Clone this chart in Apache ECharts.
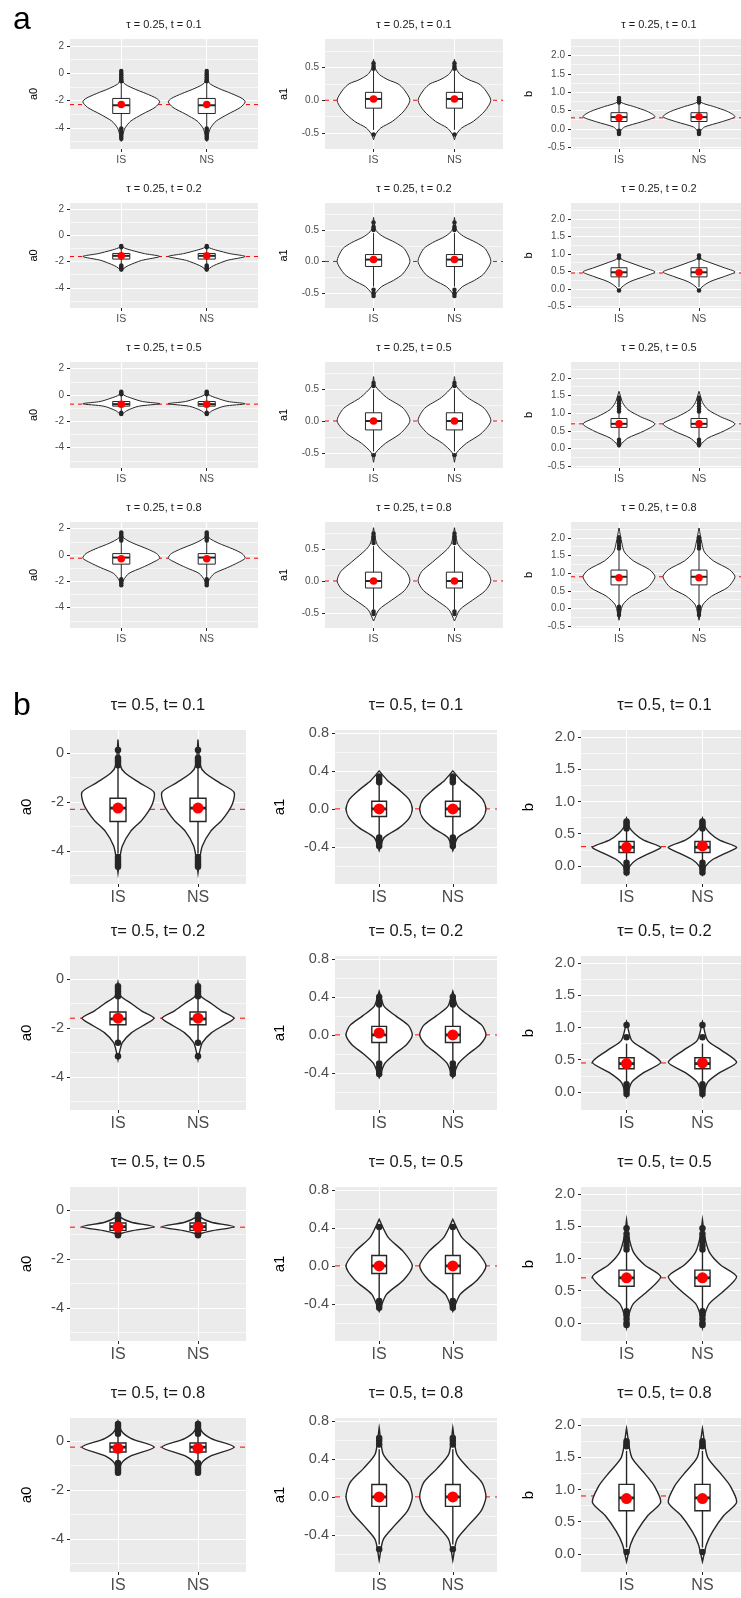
<!DOCTYPE html>
<html>
<head>
<meta charset="utf-8">
<title>Violin plots of IS and NS estimates</title>
<script src="https://cdn.jsdelivr.net/npm/echarts@6/dist/echarts.min.js"></script>
</head>
<body style="margin:0;background:#fff">
<div id="main" style="width:741px;height:1598px;"></div>
<script type="text/javascript">
var groups = ['IS', 'NS'];
var taus = ['0.25', '0.5'];
var tVals = ['0.1', '0.2', '0.5', '0.8'];
var params = ['a0', 'a1', 'b'];

// true parameter values (red dashed line), one per t
var trueA0 = [-2.3, -1.6, -0.7, -0.25];
var trueA1 = [0, 0, 0, 0];
var trueB = [0.3, 0.45, 0.7, 0.9];

// violin outlines: [y, relative half width], top to bottom, one per t
// box: [lower whisker, q1, median, q3, upper whisker]; mean: [IS, NS]
// ---- tau = 0.25 ----
var violinA0_025 = [
  [[0.3, 0], [-0.7, 0.06], [-1.1, 0.3], [-1.5, 0.65], [-1.85, 0.92], [-2.1, 1], [-2.5, 0.88], [-3.0, 0.55], [-3.5, 0.25], [-4.0, 0.1], [-4.5, 0.04], [-5.0, 0]],
  [[-0.75, 0], [-0.95, 0.08], [-1.13, 0.27], [-1.38, 0.6], [-1.6, 1], [-1.9, 0.53], [-2.3, 0.18], [-2.5, 0.07], [-2.75, 0]],
  [[0.35, 0], [0.0, 0.06], [-0.25, 0.27], [-0.5, 0.55], [-0.67, 1], [-0.86, 0.45], [-1.2, 0.14], [-1.45, 0.04], [-1.6, 0]],
  [[1.8, 0], [1.3, 0.06], [0.9, 0.3], [0.45, 0.68], [0.1, 0.92], [-0.25, 1], [-0.6, 0.8], [-0.95, 0.55], [-1.4, 0.2], [-1.9, 0.06], [-2.4, 0]]
];
var boxA0_025 = [[-3.95, -2.95, -2.35, -1.85, -0.7], [-2.2, -1.8, -1.55, -1.37, -1.0], [-1.3, -0.85, -0.7, -0.5, -0.05], [-1.75, -0.7, -0.2, 0.1, 1.0]];
var meanA0_025 = [[-2.3, -2.3], [-1.55, -1.55], [-0.7, -0.7], [-0.3, -0.3]];
var outA0_025 = [
  [-0.6, -0.45, -0.3, -0.15, 0, 0.15, -4.05, -4.2, -4.35, -4.5, -4.65, -4.8],
  [-0.8, -0.9, -2.3, -2.4, -2.5, -2.6],
  [0.05, 0.15, 0.25, -1.35, -1.45],
  [1.1, 1.25, 1.4, 1.55, 1.7, -1.85, -2.0, -2.15, -2.3]
];

var violinA1_025 = [
  [[0.62, 0], [0.48, 0.05], [0.39, 0.16], [0.31, 0.4], [0.25, 0.67], [0.16, 0.84], [0.0, 1], [-0.16, 0.84], [-0.32, 0.52], [-0.42, 0.2], [-0.52, 0.05], [-0.6, 0]],
  [[0.7, 0], [0.5, 0.06], [0.4, 0.25], [0.3, 0.6], [0.2, 0.85], [0.0, 1], [-0.2, 0.8], [-0.3, 0.55], [-0.4, 0.22], [-0.5, 0.06], [-0.57, 0]],
  [[0.7, 0], [0.55, 0.05], [0.37, 0.36], [0.2, 0.82], [0.0, 1], [-0.2, 0.73], [-0.35, 0.33], [-0.5, 0.06], [-0.65, 0]],
  [[0.84, 0], [0.6, 0.08], [0.5, 0.2], [0.3, 0.6], [0.15, 0.9], [0.0, 1], [-0.15, 0.85], [-0.3, 0.5], [-0.45, 0.15], [-0.63, 0]]
];
var boxA1_025 = [[-0.45, -0.12, 0.02, 0.12, 0.45], [-0.4, -0.08, 0.03, 0.11, 0.45], [-0.48, -0.14, 0.0, 0.13, 0.5], [-0.45, -0.11, 0.0, 0.14, 0.55]];
var meanA1_025 = [[0.02, 0.02], [0.03, 0.03], [0, 0], [0, 0]];
var outA1_025 = [
  [0.48, 0.52, 0.56, -0.52],
  [0.5, 0.55, 0.62, -0.45, -0.5, -0.55],
  [0.55, 0.6, -0.54],
  [0.6, 0.65, 0.7, 0.75, -0.48, -0.52]
];

var violinB_025 = [
  [[0.88, 0], [0.72, 0.06], [0.61, 0.4], [0.47, 0.8], [0.33, 1], [0.19, 0.62], [0.05, 0.15], [-0.05, 0.05], [-0.16, 0]],
  [[1.0, 0], [0.85, 0.06], [0.75, 0.3], [0.6, 0.7], [0.48, 1], [0.35, 0.7], [0.2, 0.3], [0.05, 0.08], [-0.08, 0]],
  [[1.62, 0], [1.3, 0.1], [1.1, 0.25], [0.9, 0.6], [0.7, 1], [0.5, 0.7], [0.3, 0.25], [0.15, 0.08], [0.03, 0]],
  [[2.28, 0], [1.85, 0.08], [1.6, 0.15], [1.35, 0.4], [1.1, 0.85], [0.9, 1], [0.6, 0.8], [0.35, 0.35], [0.1, 0.1], [-0.33, 0]]
];
var boxB_025 = [[0.0, 0.2, 0.32, 0.44, 0.7], [0.05, 0.34, 0.47, 0.6, 0.85], [0.3, 0.6, 0.7, 0.85, 1.0], [0.1, 0.67, 0.9, 1.09, 1.65]];
var meanB_025 = [[0.3, 0.33], [0.45, 0.48], [0.7, 0.7], [0.87, 0.87]];
var outB_025 = [
  [0.72, 0.78, 0.84, -0.05, -0.1, -0.14],
  [0.88, 0.95, -0.05],
  [1.05, 1.12, 1.2, 1.28, 1.36, 1.44, 0.25, 0.18, 0.1],
  [1.7, 1.78, 1.86, 1.94, 2.02, 0.05, -0.03, -0.1, -0.18]
];

// ---- tau = 0.5 ----
var violinA0_05 = [
  [[0.55, 0], [-0.5, 0.06], [-0.82, 0.2], [-1.22, 0.6], [-1.6, 1], [-2.1, 0.95], [-2.73, 0.67], [-3.2, 0.35], [-3.8, 0.12], [-4.3, 0.05], [-4.9, 0]],
  [[-0.13, 0], [-0.7, 0.08], [-1.0, 0.37], [-1.3, 0.65], [-1.6, 1], [-1.9, 0.7], [-2.2, 0.37], [-2.6, 0.12], [-3.0, 0.04], [-3.3, 0]],
  [[-0.1, 0], [-0.3, 0.07], [-0.5, 0.37], [-0.68, 1], [-0.85, 0.37], [-0.95, 0.1], [-1.07, 0]],
  [[0.82, 0], [0.4, 0.1], [0.1, 0.37], [-0.25, 1], [-0.6, 0.37], [-0.9, 0.1], [-1.35, 0]]
];
var boxA0_05 = [[-4.1, -2.8, -2.25, -1.85, -0.6], [-2.5, -1.87, -1.63, -1.35, -0.8], [-0.9, -0.83, -0.68, -0.53, -0.3], [-0.85, -0.45, -0.25, -0.08, 0.3]];
var meanA0_05 = [[-2.25, -2.25], [-1.6, -1.6], [-0.7, -0.7], [-0.3, -0.3]];
var outA0_05 = [
  [0.12, -0.2, -0.3, -0.4, -0.5, -4.25, -4.35, -4.45, -4.55, -4.65],
  [-0.3, -0.4, -0.5, -0.6, -0.7, -2.6, -3.15],
  [-0.2, -0.27, -0.35, -0.45, -0.93, -0.98, -1.03],
  [0.3, 0.4, 0.5, 0.6, 0.7, -0.9, -1.0, -1.1, -1.2, -1.3]
];

var violinA1_05 = [
  [[0.4, 0], [0.3, 0.25], [0.2, 0.6], [0.1, 0.9], [0, 1], [-0.1, 0.9], [-0.2, 0.6], [-0.3, 0.15], [-0.44, 0]],
  [[0.46, 0], [0.3, 0.15], [0.2, 0.5], [0.1, 0.88], [0, 1], [-0.1, 0.83], [-0.2, 0.47], [-0.3, 0.17], [-0.45, 0]],
  [[0.49, 0], [0.3, 0.27], [0.15, 0.73], [0, 1], [-0.15, 0.73], [-0.3, 0.22], [-0.48, 0]],
  [[0.73, 0], [0.45, 0.12], [0.3, 0.47], [0.15, 0.88], [0, 1], [-0.15, 0.85], [-0.3, 0.47], [-0.45, 0.12], [-0.67, 0]]
];
var boxA1_05 = [[-0.28, -0.08, 0.0, 0.08, 0.28], [-0.27, -0.08, 0.0, 0.09, 0.3], [-0.35, -0.08, 0.0, 0.11, 0.38], [-0.5, -0.1, 0.0, 0.13, 0.5]];
var meanA1_05 = [[0, 0], [0.02, 0], [0, 0], [0, 0]];
var outA1_05 = [
  [0.28, 0.31, 0.34, -0.3, -0.33, -0.36, -0.39],
  [0.32, 0.36, 0.4, -0.3, -0.34, -0.38, -0.41],
  [0.41, -0.37, -0.41, -0.44],
  [0.55, 0.59, 0.62, -0.55]
];

var violinB_05 = [
  [[0.74, 0], [0.6, 0.08], [0.5, 0.24], [0.4, 0.5], [0.29, 1], [0.2, 0.68], [0.1, 0.3], [0.0, 0.1], [-0.14, 0]],
  [[1.09, 0], [0.8, 0.15], [0.65, 0.55], [0.46, 1], [0.3, 0.5], [0.15, 0.15], [-0.08, 0]],
  [[1.6, 0], [1.35, 0.06], [1.1, 0.2], [0.9, 0.53], [0.72, 1], [0.5, 0.63], [0.3, 0.2], [0.1, 0.05], [-0.07, 0]],
  [[1.95, 0], [1.5, 0.15], [1.25, 0.53], [1.05, 0.82], [0.8, 1], [0.6, 0.63], [0.35, 0.3], [0.15, 0.12], [-0.12, 0]]
];
var boxB_05 = [[0.0, 0.21, 0.29, 0.38, 0.55], [0.15, 0.36, 0.44, 0.53, 0.75], [0.2, 0.57, 0.7, 0.82, 1.1], [0.1, 0.67, 0.87, 1.08, 1.6]];
var meanB_05 = [[0.29, 0.31], [0.44, 0.45], [0.7, 0.7], [0.86, 0.86]];
var outB_05 = [
  [0.58, 0.62, 0.66, 0.69, 0.05, 0.0, -0.05, -0.1],
  [0.85, 1.04, 0.12, 0.07, 0.02, -0.03],
  [1.14, 1.2, 1.26, 1.32, 1.38, 1.47, 0.18, 0.12, 0.06, 0.0, -0.03],
  [1.67, 1.71, 1.75, 0.03]
];

// axis ranges and tick values for each parameter column
var yRange_025 = [[-5.55, 2.5], [-0.74, 0.93], [-0.55, 2.45]];
var yRange_05 = [[-5.35, 0.94], [-0.79, 0.83], [-0.28, 2.11]];
var yMajor_025 = [[-4, -2, 0, 2], [-0.5, 0, 0.5], [-0.5, 0, 0.5, 1, 1.5, 2]];
var yMinor_025 = [[-5, -3, -1, 1], [-0.25, 0.25, 0.75], [-0.25, 0.25, 0.75, 1.25, 1.75, 2.25]];
var yMajor_05 = [[-4, -2, 0], [-0.4, 0, 0.4, 0.8], [0, 0.5, 1, 1.5, 2]];
var yMinor_05 = [[-5, -3, -1], [-0.6, -0.2, 0.2, 0.6], [0.25, 0.75, 1.25, 1.75]];
var decimals = [0, 1, 1];

var truth = [trueA0, trueA1, trueB];
var sections = [
  {
    tau: taus[0],
    violin: [violinA0_025, violinA1_025, violinB_025],
    box: [boxA0_025, boxA1_025, boxB_025],
    mean: [meanA0_025, meanA1_025, meanB_025],
    out: [outA0_025, outA1_025, outB_025],
    range: yRange_025, major: yMajor_025, minor: yMinor_025
  },
  {
    tau: taus[1],
    violin: [violinA0_05, violinA1_05, violinB_05],
    box: [boxA0_05, boxA1_05, boxB_05],
    mean: [meanA0_05, meanA1_05, meanB_05],
    out: [outA0_05, outA1_05, outB_05],
    range: yRange_05, major: yMajor_05, minor: yMinor_05
  }
];

// page layout (pixels)
var layouts = [
  {
    tops: [39, 203, 362, 522], heights: [110, 105, 106, 106],
    lefts: [70, 325, 571], widths: [188, 178, 176],
    nameGaps: [31, 36, 37], titleOffset: 20, letterTop: 4,
    titleFmt: function (tau, t) { return 'τ = ' + tau + ', t = ' + t; },
    fTitle: 11, fTick: 10, fX: 10.5, fName: 11,
    lw: 1, outSize: 4.5, meanSize: 7.5, dash: [4, 4]
  },
  {
    tops: [730, 956, 1187, 1418], heights: [154, 154, 154, 154],
    lefts: [70, 335, 581], widths: [176, 162, 167],
    nameGaps: [36, 48, 45], titleOffset: 33, letterTop: 690,
    titleFmt: function (tau, t) { return 'τ= ' + tau + ', t= ' + t; },
    fTitle: 16.5, fTick: 14.5, fX: 16, fName: 15,
    lw: 1.4, outSize: 6.5, meanSize: 11, dash: [5, 5]
  }
];

var xMin = 0.4, xMax = 2.6, xPos = [1, 2];
var VHALF = 0.45, BHALF = 0.1;
var ink = '#262626';

function makeRender(prof, box, lw) {
  return function (params, api) {
    var x = api.value(0);
    var pts = [];
    for (var i = 0; i < prof.length; i++) pts.push(api.coord([x + prof[i][1] * VHALF, prof[i][0]]));
    for (var j = prof.length - 1; j >= 0; j--) pts.push(api.coord([x - prof[j][1] * VHALF, prof[j][0]]));
    var lo = api.coord([x, box[0]]);
    var hi = api.coord([x, box[4]]);
    var bl = api.coord([x - BHALF, box[1]]);
    var tr = api.coord([x + BHALF, box[3]]);
    var mL = api.coord([x - BHALF, box[2]]);
    var mR = api.coord([x + BHALF, box[2]]);
    return {
      type: 'group',
      children: [
        { type: 'polygon', shape: { points: pts, smooth: 0.25 }, style: { fill: '#fff', stroke: ink, lineWidth: lw } },
        { type: 'line', shape: { x1: lo[0], y1: lo[1], x2: hi[0], y2: hi[1] }, style: { stroke: ink, lineWidth: lw } },
        { type: 'rect', shape: { x: bl[0], y: tr[1], width: tr[0] - bl[0], height: bl[1] - tr[1] }, style: { fill: '#fff', stroke: ink, lineWidth: lw } },
        { type: 'line', shape: { x1: mL[0], y1: mL[1], x2: mR[0], y2: mR[1] }, style: { stroke: ink, lineWidth: lw * 2 } }
      ]
    };
  };
}

var option = {
  animation: false,
  backgroundColor: '#fff',
  textStyle: { fontFamily: 'Liberation Sans, Arial, sans-serif' },
  title: [], grid: [], xAxis: [], yAxis: [], series: []
};

['a', 'b'].forEach(function (letter, s) {
  option.title.push({
    text: letter, left: 13, top: layouts[s].letterTop, padding: 0,
    textStyle: { fontSize: 32, fontWeight: 'normal', color: '#000' }
  });
});

sections.forEach(function (sec, s) {
  var L = layouts[s];
  for (var r = 0; r < tVals.length; r++) {
    for (var c = 0; c < params.length; c++) {
      var gi = option.grid.length;
      var left = L.lefts[c], top = L.tops[r], w = L.widths[c], h = L.heights[r];
      option.grid.push({
        left: left, top: top, width: w, height: h,
        show: true, backgroundColor: '#EBEBEB', borderWidth: 0,
        outerBoundsMode: 'none'
      });
      option.title.push({
        text: L.titleFmt(sec.tau, tVals[r]),
        left: left + w / 2, top: top - L.titleOffset, textAlign: 'center', padding: 0,
        textStyle: { fontSize: L.fTitle, fontWeight: 'normal', color: '#1a1a1a' }
      });
      option.xAxis.push({
        gridIndex: gi, type: 'value', min: xMin, max: xMax, position: 'bottom',
        axisLine: { show: false, onZero: false },
        axisTick: { customValues: xPos, length: 3, lineStyle: { color: ink } },
        axisLabel: {
          customValues: xPos, margin: 6, color: '#4d4d4d', fontSize: L.fX,
          formatter: function (v) { return groups[Math.round(v) - 1]; }
        },
        splitLine: { show: true, lineStyle: { color: '#fff', width: 1.1 } }
      });
      var dec = decimals[c];
      var yMajIdx = option.yAxis.length;
      option.yAxis.push({
        gridIndex: gi, type: 'value', min: sec.range[c][0], max: sec.range[c][1], position: 'left',
        axisLine: { show: false, onZero: false },
        axisTick: { customValues: sec.major[c], length: 3, lineStyle: { color: ink } },
        axisLabel: {
          customValues: sec.major[c], margin: 6, color: '#4d4d4d', fontSize: L.fTick,
          formatter: (function (d) { return function (v) { return v.toFixed(d); }; })(dec)
        },
        splitLine: { show: true, lineStyle: { color: '#fff', width: 1.1 } },
        name: params[c], nameLocation: 'middle', nameRotate: 90, nameGap: L.nameGaps[c],
        nameMoveOverlap: false,
        nameTextStyle: { fontSize: L.fName, color: '#000' }
      });
      option.yAxis.push({
        gridIndex: gi, type: 'value', min: sec.range[c][0], max: sec.range[c][1], position: 'left',
        axisLine: { show: false, onZero: false },
        axisTick: { show: false, customValues: sec.minor[c] },
        axisLabel: { show: false },
        splitLine: { show: true, lineStyle: { color: '#fff', width: 0.6 } }
      });

      var tv = truth[c][r];
      option.series.push({
        type: 'line', xAxisIndex: gi, yAxisIndex: yMajIdx, silent: true, z: 2,
        data: [[xMin, tv], [xMax, tv]], symbol: 'none',
        lineStyle: { color: '#ff0000', width: 1, type: L.dash }
      });

      var prof = sec.violin[c][r], box = sec.box[c][r];
      option.series.push({
        type: 'custom', xAxisIndex: gi, yAxisIndex: yMajIdx, silent: true, z: 3,
        data: xPos.map(function (x) { return [x, box[2]]; }),
        renderItem: makeRender(prof, box, L.lw)
      });

      var outs = sec.out[c][r], outData = [];
      xPos.forEach(function (x) { outs.forEach(function (v) { outData.push([x, v]); }); });
      option.series.push({
        type: 'scatter', xAxisIndex: gi, yAxisIndex: yMajIdx, silent: true, z: 4,
        data: outData, symbolSize: L.outSize, itemStyle: { color: ink, opacity: 1 }
      });

      var means = sec.mean[c][r];
      option.series.push({
        type: 'scatter', xAxisIndex: gi, yAxisIndex: yMajIdx, silent: true, z: 5,
        data: xPos.map(function (x, k) { return [x, means[k]]; }),
        symbolSize: L.meanSize, itemStyle: { color: '#ff0000', opacity: 1 }
      });
    }
  }
});

var myChart = echarts.init(document.getElementById('main'));
myChart.setOption(option);
</script>
</body>
</html>
